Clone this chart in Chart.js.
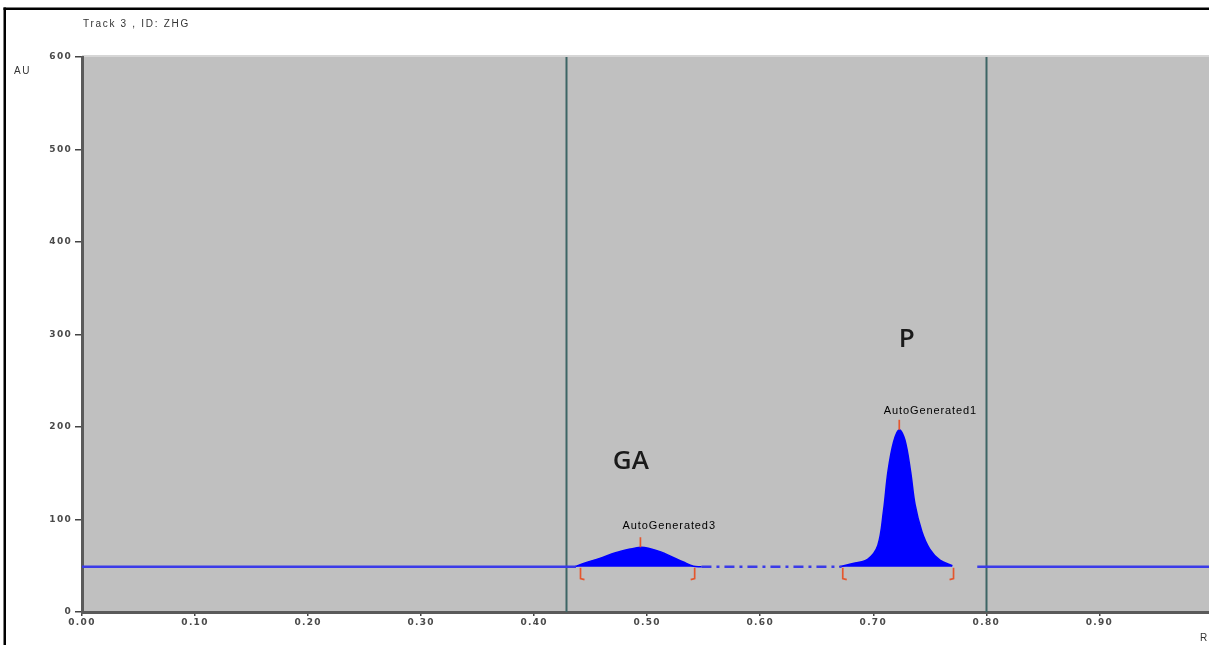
<!DOCTYPE html>
<html>
<head>
<meta charset="utf-8">
<script src="https://cdn.jsdelivr.net/npm/chart.js@4.4.1/dist/chart.umd.min.js"></script>
<style>
  html, body { margin: 0; padding: 0; background: #ffffff; }
  #wrap { width: 1209px; height: 645px; position: relative; overflow: hidden; }
</style>
</head>
<body>
<div id="wrap"><canvas id="c" width="1209" height="645"></canvas></div>
<script>
// ---- Data ----
const xTickValues = [0.0, 0.1, 0.2, 0.3, 0.4, 0.5, 0.6, 0.7, 0.8, 0.9];
const yTickValues = [0, 100, 200, 300, 400, 500, 600];
const baselineAU = 49;

const baseLeftX  = [0.0, 0.437];
const baseLeftY  = [49, 49];

const gaX = [0.436, 0.445, 0.458, 0.472, 0.485, 0.494, 0.501, 0.512, 0.522, 0.532, 0.541, 0.548];
const gaY = [49,    53,    58,    64,    68,    70,    69,    65,    59.5,  54,    49.5,  49];

const dashX = [0.548, 0.672];
const dashY = [49, 49];

const pX = [0.670, 0.684, 0.695, 0.704, 0.709, 0.713, 0.718, 0.723, 0.728, 0.733, 0.737, 0.743, 0.750, 0.759, 0.770];
const pY = [49,    53,    57,    72,    109,   152,   184,   197,   186,   152,   116,   87,    68,    56,    50];

const baseRightX = [0.792, 1.0];
const baseRightY = [49, 49];

const markerLines = [0.428, 0.80];              // vertical track marker lines (Rf)
const peakNames   = ["AutoGenerated3", "AutoGenerated1"];
const peakTopX    = [0.494, 0.723];
const peakTopY    = [70, 197];
const peakStartX  = [0.441, 0.673];
const peakEndX    = [0.542, 0.771];
const compoundNames = ["GA", "P"];

// ---- Helpers ----
const pts = (xs, ys) => xs.map((x, i) => ({ x: x, y: ys[i] }));

const BLUE_LINE = '#3b3be8';
const BLUE_FILL = '#0000ff';

const overlayPlugin = {
  id: 'overlay',
  beforeDraw(chart) {
    const { ctx, chartArea: a } = chart;
    ctx.save();
    ctx.fillStyle = '#ffffff';
    ctx.fillRect(0, 0, chart.width, chart.height);
    // plot background
    ctx.fillStyle = '#c0c0c0';
    ctx.fillRect(a.left, a.top, a.right - a.left, a.bottom - a.top);
    // soft top edge
    ctx.fillStyle = '#d6d6d6';
    ctx.fillRect(a.left, a.top - 2, a.right - a.left, 2);
    // frame
    ctx.fillStyle = '#000000';
    ctx.fillRect(3.5, 7.5, chart.width, 2.5);
    ctx.fillRect(3.5, 7.5, 2.5, chart.height);
    // header texts
    ctx.fillStyle = '#333333';
    ctx.font = '10px "Liberation Sans", Arial, sans-serif';
    ctx.textBaseline = 'middle';
    ctx.textAlign = 'left';
    ctx.letterSpacing = '1.7px';
    ctx.fillText('Track 3 , ID: ZHG', 83, 24);
    ctx.fillText('AU', 14, 71);
    ctx.fillText('Rf', 1200, 638);
    ctx.restore();
    // wider spacing for the axis tick labels drawn next
    ctx.letterSpacing = '1.3px';
  },
  beforeDatasetsDraw(chart) {
    const { ctx, chartArea: a, scales } = chart;
    ctx.letterSpacing = '0px';
    ctx.save();
    ctx.strokeStyle = '#3d6565';
    ctx.lineWidth = 2;
    markerLines.forEach(v => {
      const px = Math.round(scales.x.getPixelForValue(v)) + 0.5;
      ctx.beginPath();
      ctx.moveTo(px, a.top);
      ctx.lineTo(px, a.bottom);
      ctx.stroke();
    });
    ctx.restore();
  },
  afterDatasetsDraw(chart) {
    const { ctx, scales } = chart;
    const xs = scales.x, ys = scales.y;
    ctx.save();
    const yb = ys.getPixelForValue(baselineAU);
    // brackets at peak ends
    ctx.strokeStyle = '#e4572e';
    ctx.lineWidth = 1.7;
    for (let i = 0; i < peakStartX.length; i++) {
      const xl = xs.getPixelForValue(peakStartX[i]);
      const xr = xs.getPixelForValue(peakEndX[i]);
      ctx.beginPath();
      ctx.moveTo(xl, yb + 1);
      ctx.lineTo(xl, yb + 12);
      ctx.lineTo(xl + 4, yb + 13);
      ctx.stroke();
      ctx.beginPath();
      ctx.moveTo(xr, yb + 1);
      ctx.lineTo(xr, yb + 12);
      ctx.lineTo(xr - 4, yb + 13);
      ctx.stroke();
      // peak top tick
      const xt = xs.getPixelForValue(peakTopX[i]);
      const yt = ys.getPixelForValue(peakTopY[i]);
      ctx.beginPath();
      ctx.moveTo(xt, yt);
      ctx.lineTo(xt, yt - 10);
      ctx.stroke();
    }
    // peak labels
    ctx.fillStyle = '#000000';
    ctx.font = '11px "Liberation Sans", Arial, sans-serif';
    ctx.letterSpacing = '0.9px';
    ctx.textAlign = 'center';
    ctx.textBaseline = 'middle';
    const labelDX = [0.0255, 0.0275];
    const labelDY = [23, 20];
    for (let i = 0; i < peakNames.length; i++) {
      const x = xs.getPixelForValue(peakTopX[i] + labelDX[i]);
      const y = ys.getPixelForValue(peakTopY[i] + labelDY[i]);
      ctx.fillText(peakNames[i], x, y);
    }
    ctx.letterSpacing = '0px';
    // compound names
    ctx.fillStyle = '#1a1a1a';
    ctx.font = '600 26px "Open Sans", "Noto Sans", sans-serif';
    const compX = [0.4855, 0.7295];
    const compY = [163, 295];
    for (let i = 0; i < compoundNames.length; i++) {
      ctx.fillText(compoundNames[i], xs.getPixelForValue(compX[i]), ys.getPixelForValue(compY[i]));
    }
    ctx.restore();
  }
};

const tickFont = { family: '"DejaVu Sans", "Liberation Sans", sans-serif', size: 9, weight: 'bold' };

new Chart(document.getElementById('c'), {
  type: 'line',
  data: {
    datasets: [
      { data: pts(baseLeftX, baseLeftY), borderColor: BLUE_LINE, borderWidth: 2.5, pointRadius: 0, fill: false },
      { data: pts(gaX, gaY), borderColor: BLUE_FILL, backgroundColor: BLUE_FILL, borderWidth: 1.5, pointRadius: 0, tension: 0.35, fill: { value: baselineAU } },
      { data: pts(dashX, dashY), borderColor: BLUE_LINE, borderWidth: 2.5, borderDash: [10, 5, 3, 5], pointRadius: 0, fill: false },
      { data: pts(pX, pY), borderColor: BLUE_FILL, backgroundColor: BLUE_FILL, borderWidth: 1.5, pointRadius: 0, tension: 0.35, fill: { value: baselineAU } },
      { data: pts(baseRightX, baseRightY), borderColor: BLUE_LINE, borderWidth: 2.5, pointRadius: 0, fill: false }
    ]
  },
  options: {
    responsive: false,
    animation: false,
    devicePixelRatio: 1,
    layout: { padding: { top: 57, left: 0, right: 0, bottom: 0 } },
    plugins: { legend: { display: false }, tooltip: { enabled: false }, title: { display: false } },
    scales: {
      x: {
        type: 'linear',
        min: 0,
        max: 0.997,
        afterBuildTicks: s => { s.ticks = xTickValues.map(v => ({ value: v })); },
        afterFit: s => { s.height = 33; },
        border: { color: '#5a5a5a', width: 3 },
        grid: { drawOnChartArea: false, drawTicks: true, tickLength: 4, color: '#444444', lineWidth: 1.5 },
        ticks: { color: '#4a4a4a', font: tickFont, padding: 1, autoSkip: false, maxRotation: 0,
                 callback: v => Number(v).toFixed(2) }
      },
      y: {
        type: 'linear',
        min: 0,
        max: 600,
        afterBuildTicks: s => { s.ticks = yTickValues.map(v => ({ value: v })); },
        afterFit: s => { s.width = 82; },
        border: { color: '#5a5a5a', width: 3 },
        grid: { drawOnChartArea: false, drawTicks: true, tickLength: 7, color: '#444444', lineWidth: 1.5 },
        ticks: { color: '#4a4a4a', font: tickFont, padding: 3, autoSkip: false,
                 callback: v => String(v) }
      }
    }
  },
  plugins: [overlayPlugin]
});
</script>
</body>
</html>
